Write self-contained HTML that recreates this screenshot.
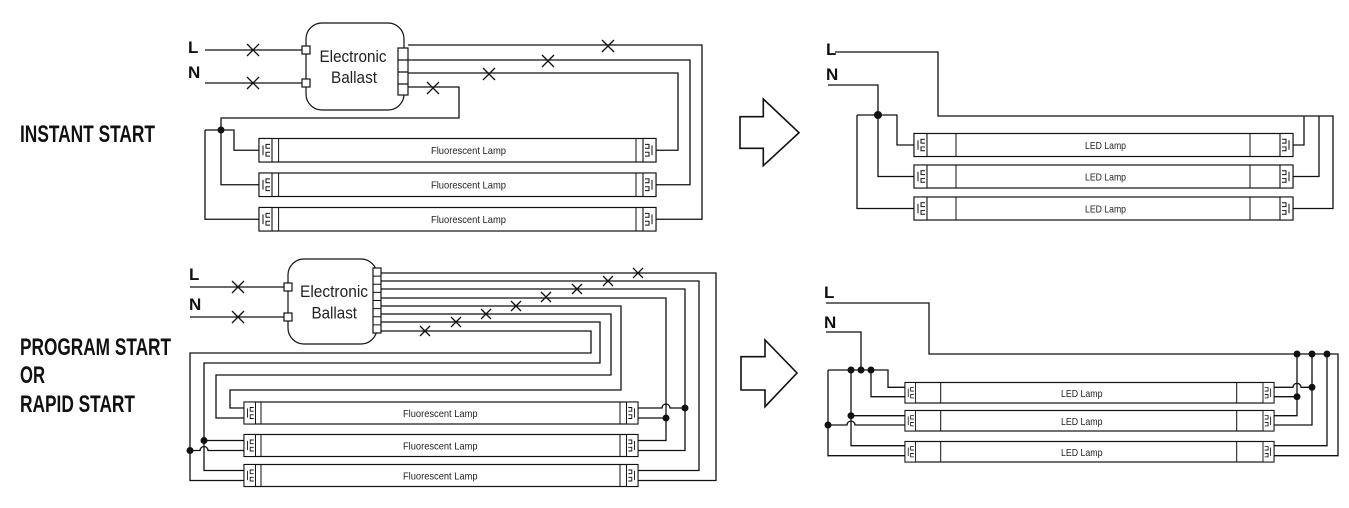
<!DOCTYPE html>
<html><head><meta charset="utf-8"><style>
html,body{margin:0;padding:0;background:#fff;}
svg{display:block;}
.w{fill:none;stroke:#111;stroke-width:1.3;}
.t{fill:#fff;stroke:#111;stroke-width:1.2;}
.lbl{font-family:"Liberation Sans Narrow","Liberation Sans",sans-serif;font-weight:bold;fill:#111;}
.sm{font-family:"Liberation Sans Narrow","Liberation Sans",sans-serif;fill:#222;}
</style></head><body>
<svg width="1349" height="508" viewBox="0 0 1349 508" xmlns="http://www.w3.org/2000/svg">
<defs>
<symbol id="capL" viewBox="0 0 13 24" preserveAspectRatio="none" overflow="visible">
<rect x="0" y="0" width="13" height="24" fill="#fff" stroke="#111" stroke-width="1.1"/>
<path d="M4,7V17M11,6H7V10H11M11,14H7V18H11" fill="none" stroke="#111" stroke-width="1"/>
</symbol>
<symbol id="capR" viewBox="0 0 13 24" preserveAspectRatio="none" overflow="visible">
<rect x="0" y="0" width="13" height="24" fill="#fff" stroke="#111" stroke-width="1.1"/>
<path d="M9,7V17M2,6H6V10H2M2,14H6V18H2" fill="none" stroke="#111" stroke-width="1"/>
</symbol>
</defs>

<!-- Side labels -->
<text class="lbl" x="20" y="142" font-size="24" textLength="135" lengthAdjust="spacingAndGlyphs">INSTANT START</text>
<text class="lbl" x="20" y="355" font-size="24" textLength="151" lengthAdjust="spacingAndGlyphs">PROGRAM START</text>
<text class="lbl" x="20" y="383" font-size="24" textLength="25" lengthAdjust="spacingAndGlyphs">OR</text>
<text class="lbl" x="20" y="412" font-size="24" textLength="115" lengthAdjust="spacingAndGlyphs">RAPID START</text>

<!-- Arrows -->
<path class="w" style="stroke-width:1.6" d="M740,116.7H763.3V99L799,132.7L763.3,165.7V148.3H740Z"/>
<path class="w" style="stroke-width:1.6" d="M741,356.7H765V340L797,373L765,406.7V390H741Z"/>

<!-- ===== TOP LEFT ===== -->
<text class="lbl" x="188" y="53" font-size="17">L</text>
<text class="lbl" x="188" y="78" font-size="17">N</text>
<path class="w" d="M205,50H302M205,83H302"/>
<path class="w" d="M247,44L259,56M259,44L247,56M247,77L259,89M259,77L247,89"/>
<rect class="t" x="306" y="23" width="98" height="87" rx="16"/>
<rect class="t" x="302" y="46" width="8" height="8"/>
<rect class="t" x="302" y="79" width="8" height="8"/>
<text class="sm" x="319.5" y="62" font-size="17" textLength="67" lengthAdjust="spacingAndGlyphs">Electronic</text>
<text class="sm" x="331" y="83" font-size="17" textLength="46" lengthAdjust="spacingAndGlyphs">Ballast</text>
<rect class="t" x="398" y="48" width="10" height="47"/>
<path class="w" d="M398,60H408M398,72H408M398,84H408"/>
<path class="w" d="M408,45H702V219.25H656M408,60H690V184.75H656M408,73H678V150.25H656M408,87H459V118H221V184.75H259M205,130H234V150.25H259M205,130V219.25H259"/>
<circle cx="221" cy="130" r="3.5" fill="#111"/>
<path class="w" d="M602,40L614,52M614,40L602,52M542,55L554,67M554,55L542,67M483,68L495,80M495,68L483,80M427,82L439,94M439,82L427,94"/>
<!-- lamps -->
<g>
<rect class="t" x="259" y="138.5" width="397" height="23.5"/>
<path class="w" style="stroke-width:1" d="M278.6,138.5V162M636,138.5V162"/>
<use href="#capL" x="259" y="138.5" width="13" height="23.5"/><use href="#capR" x="643" y="138.5" width="13" height="23.5"/>
<text class="sm" x="431" y="154" font-size="10.5" textLength="75" lengthAdjust="spacingAndGlyphs">Fluorescent Lamp</text>
<rect class="t" x="259" y="173" width="397" height="23.5"/>
<path class="w" style="stroke-width:1" d="M278.6,173V196.5M636,173V196.5"/>
<use href="#capL" x="259" y="173" width="13" height="23.5"/><use href="#capR" x="643" y="173" width="13" height="23.5"/>
<text class="sm" x="431" y="188.5" font-size="10.5" textLength="75" lengthAdjust="spacingAndGlyphs">Fluorescent Lamp</text>
<rect class="t" x="259" y="207.5" width="397" height="23.5"/>
<path class="w" style="stroke-width:1" d="M278.6,207.5V231M636,207.5V231"/>
<use href="#capL" x="259" y="207.5" width="13" height="23.5"/><use href="#capR" x="643" y="207.5" width="13" height="23.5"/>
<text class="sm" x="431" y="223" font-size="10.5" textLength="75" lengthAdjust="spacingAndGlyphs">Fluorescent Lamp</text>
</g>

<!-- ===== BOTTOM LEFT ===== -->
<text class="lbl" x="189" y="280" font-size="17">L</text>
<text class="lbl" x="189" y="310" font-size="17">N</text>
<path class="w" d="M190,287H284M190,317H284"/>
<path class="w" d="M232,281L244,293M244,281L232,293M232,311L244,323M244,311L232,323"/>
<rect class="t" x="288" y="259" width="89" height="85" rx="16"/>
<rect class="t" x="284" y="283" width="8" height="8"/>
<rect class="t" x="284" y="313" width="8" height="8"/>
<text class="sm" x="300" y="297" font-size="17" textLength="68" lengthAdjust="spacingAndGlyphs">Electronic</text>
<text class="sm" x="311.5" y="318.5" font-size="17" textLength="45.5" lengthAdjust="spacingAndGlyphs">Ballast</text>
<rect class="t" x="373" y="268" width="8" height="65"/>
<path class="w" style="stroke-width:1" d="M373,276.1H381M373,284.2H381M373,292.4H381M373,300.5H381M373,308.6H381M373,316.8H381M373,324.9H381"/>
<path class="w" d="M381,273H716V480.5H638M381,281H699V470.5H638M381,289H685V450.5H638M381,298H666V440.5H638M638,418H666M638,408H662A4,4 0 0 1 670,408H685"/>
<path class="w" d="M381,306H621V390H230V408H244M381,314H611V375H216V418H244M381,322H600V363H204V470.5H244M204,440.5H244M381,331H591V353H190V480.5H244M190,450.5H200A4,4 0 0 1 208,450.5H244"/>
<circle cx="685" cy="408" r="3.5" fill="#111"/><circle cx="666" cy="418" r="3.5" fill="#111"/>
<circle cx="204" cy="440.5" r="3.5" fill="#111"/><circle cx="190" cy="450.5" r="3.5" fill="#111"/>
<path class="w" d="M633,268L643,278M643,268L633,278M603,276L613,286M613,276L603,286M572,284L582,294M582,284L572,294M541,292L551,302M551,292L541,302M511,301L521,311M521,301L511,311M481,309L491,319M491,309L481,319M451,317L461,327M461,317L451,327M420,326L430,336M430,326L420,336"/>
<g>
<rect class="t" x="244" y="402" width="394" height="22"/>
<path class="w" style="stroke-width:1" d="M261,402V424M620,402V424"/>
<use href="#capL" x="244" y="402" width="11.5" height="22"/><use href="#capR" x="626.5" y="402" width="11.5" height="22"/>
<text class="sm" x="403" y="417" font-size="10.5" textLength="74.5" lengthAdjust="spacingAndGlyphs">Fluorescent Lamp</text>
<rect class="t" x="244" y="434.5" width="394" height="22"/>
<path class="w" style="stroke-width:1" d="M261,434.5V456.5M620,434.5V456.5"/>
<use href="#capL" x="244" y="434.5" width="11.5" height="22"/><use href="#capR" x="626.5" y="434.5" width="11.5" height="22"/>
<text class="sm" x="403" y="449.5" font-size="10.5" textLength="74.5" lengthAdjust="spacingAndGlyphs">Fluorescent Lamp</text>
<rect class="t" x="244" y="464.5" width="394" height="22"/>
<path class="w" style="stroke-width:1" d="M261,464.5V486.5M620,464.5V486.5"/>
<use href="#capL" x="244" y="464.5" width="11.5" height="22"/><use href="#capR" x="626.5" y="464.5" width="11.5" height="22"/>
<text class="sm" x="403" y="479.5" font-size="10.5" textLength="74.5" lengthAdjust="spacingAndGlyphs">Fluorescent Lamp</text>
</g>

<!-- ===== TOP RIGHT ===== -->
<text class="lbl" x="826" y="55" font-size="17">L</text>
<text class="lbl" x="826" y="80" font-size="17">N</text>
<path class="w" d="M835,52H938V116H1333V208.5H1293M1304,116V145H1293M1319,116V176.5H1293"/>
<path class="w" d="M828,85H878V115M857,115H897V145H914M878,115V176.5H914M857,115V208.5H914"/>
<circle cx="878" cy="115" r="4" fill="#111"/>
<g>
<rect class="t" x="914" y="133.5" width="379" height="23"/>
<path class="w" style="stroke-width:1" d="M956,133.5V156.5M1250,133.5V156.5"/>
<use href="#capL" x="914" y="133.5" width="13" height="23"/><use href="#capR" x="1280" y="133.5" width="13" height="23"/>
<text class="sm" x="1085" y="149" font-size="10.5" textLength="41" lengthAdjust="spacingAndGlyphs">LED Lamp</text>
<rect class="t" x="914" y="165" width="379" height="23"/>
<path class="w" style="stroke-width:1" d="M956,165V188M1250,165V188"/>
<use href="#capL" x="914" y="165" width="13" height="23"/><use href="#capR" x="1280" y="165" width="13" height="23"/>
<text class="sm" x="1085" y="180.5" font-size="10.5" textLength="41" lengthAdjust="spacingAndGlyphs">LED Lamp</text>
<rect class="t" x="914" y="197" width="379" height="23"/>
<path class="w" style="stroke-width:1" d="M956,197V220M1250,197V220"/>
<use href="#capL" x="914" y="197" width="13" height="23"/><use href="#capR" x="1280" y="197" width="13" height="23"/>
<text class="sm" x="1085" y="212.5" font-size="10.5" textLength="41" lengthAdjust="spacingAndGlyphs">LED Lamp</text>
</g>

<!-- ===== BOTTOM RIGHT ===== -->
<text class="lbl" x="824" y="298" font-size="17">L</text>
<text class="lbl" x="824" y="328" font-size="17">N</text>
<path class="w" d="M826,303H929V354H1338V455.7H1274M1297,354V415.7H1274M1312,354V425H1274M1327,354V445.7H1274M1274,396.7H1297M1274,387.3H1293A4,4 0 0 1 1301,387.3H1312"/>
<path class="w" d="M826,332H861V370M828,370H888V387.3H905M871,370V396.7H905M851,370V445.7H905M851,415.7H905M828,370V455.7H905M828,425H847A4,4 0 0 1 855,425H905"/>
<circle cx="1297" cy="354" r="3.5" fill="#111"/><circle cx="1312" cy="354" r="3.5" fill="#111"/><circle cx="1327" cy="354" r="3.5" fill="#111"/>
<circle cx="1312" cy="387.3" r="3.5" fill="#111"/><circle cx="1297" cy="396.7" r="3.5" fill="#111"/>
<circle cx="851" cy="370" r="3.5" fill="#111"/><circle cx="861" cy="370" r="3.5" fill="#111"/><circle cx="871" cy="370" r="3.5" fill="#111"/>
<circle cx="851" cy="415.7" r="3.5" fill="#111"/><circle cx="828" cy="425" r="3.5" fill="#111"/>
<g>
<rect class="t" x="905" y="382.5" width="369" height="20.5"/>
<path class="w" style="stroke-width:1" d="M940.7,382.5V403M1236.7,382.5V403"/>
<use href="#capL" x="905" y="382.5" width="10.5" height="20.5"/><use href="#capR" x="1263" y="382.5" width="11" height="20.5"/>
<text class="sm" x="1061" y="397" font-size="10.5" textLength="41.5" lengthAdjust="spacingAndGlyphs">LED Lamp</text>
<rect class="t" x="905" y="410.5" width="369" height="20.5"/>
<path class="w" style="stroke-width:1" d="M940.7,410.5V431M1236.7,410.5V431"/>
<use href="#capL" x="905" y="410.5" width="10.5" height="20.5"/><use href="#capR" x="1263" y="410.5" width="11" height="20.5"/>
<text class="sm" x="1061" y="425" font-size="10.5" textLength="41.5" lengthAdjust="spacingAndGlyphs">LED Lamp</text>
<rect class="t" x="905" y="441.5" width="369" height="20.5"/>
<path class="w" style="stroke-width:1" d="M940.7,441.5V462M1236.7,441.5V462"/>
<use href="#capL" x="905" y="441.5" width="10.5" height="20.5"/><use href="#capR" x="1263" y="441.5" width="11" height="20.5"/>
<text class="sm" x="1061" y="456" font-size="10.5" textLength="41.5" lengthAdjust="spacingAndGlyphs">LED Lamp</text>
</g>
</svg>
</body></html>
